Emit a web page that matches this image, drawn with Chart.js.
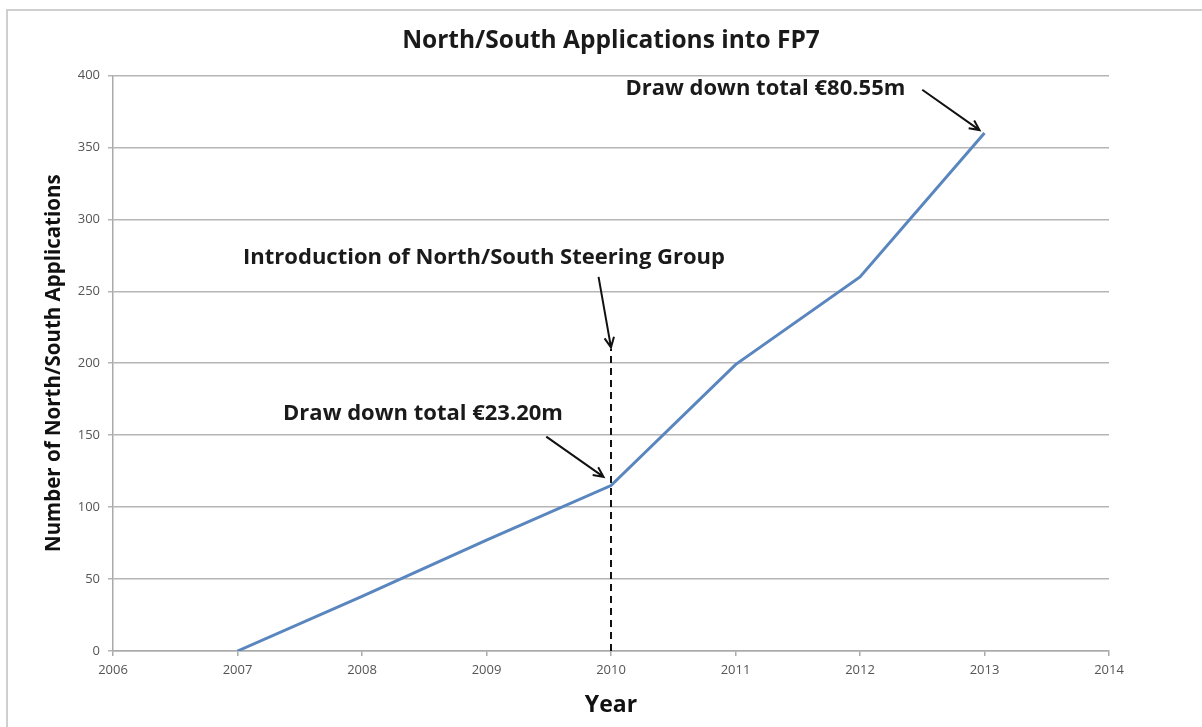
<!DOCTYPE html>
<html>
<head>
<meta charset="utf-8">
<script src="https://cdn.jsdelivr.net/npm/chart.js@4/dist/chart.umd.min.js"></script>
<style>
  html, body { margin: 0; padding: 0; background: #fff; }
  #wrap { width: 1202px; height: 727px; position: relative; }
</style>
</head>
<body>
<div id="wrap"><canvas id="c" width="1202" height="727"></canvas></div>
<script>
// donnees
const years = [2007, 2008, 2009, 2010, 2011, 2012, 2013];
const applications = [0, 38, 77, 115, 199, 260, 360];
const xRange = [2006, 2014];
const yRange = [0, 400];
const yStep = 50;
const steeringYear = 2010;
const steeringTop = 210;

// annotations (texte + fleche, en coordonnees de donnees)
const notes = [
  { text: "Draw down total \u20AC80.55m", x: 2011.24, y: 391, from: [2012.5, 390], to: [2012.96, 362] },
  { text: "Introduction of North/South Steering Group", x: 2008.98, y: 273, from: [2009.9, 260], to: [2010, 211] },
  { text: "Draw down total \u20AC23.20m", x: 2008.49, y: 165, from: [2009.48, 149], to: [2009.94, 121] }
];

const FONT = "'Open Sans', Lato, sans-serif";

// cadre gris autour du graphique
const framePlugin = {
  id: "frame",
  afterLayout(chart) {
    // titre centre sur la zone du graphique
    const t = chart.titleBlock;
    if (t) { t.left = chart.chartArea.left; t.right = chart.chartArea.right; }
  },
  beforeDraw(chart) {
    const ctx = chart.ctx;
    ctx.save();
    ctx.strokeStyle = "#cfcfcf";
    ctx.lineWidth = 2;
    ctx.strokeRect(7, 10, 1210, 730);
    ctx.restore();
  }
};

function arrow(ctx, x1, y1, x2, y2) {
  const a = Math.atan2(y2 - y1, x2 - x1);
  const h = 11;
  ctx.beginPath();
  ctx.moveTo(x1, y1);
  ctx.lineTo(x2, y2);
  ctx.moveTo(x2 - h * Math.cos(a - 0.45), y2 - h * Math.sin(a - 0.45));
  ctx.lineTo(x2, y2);
  ctx.lineTo(x2 - h * Math.cos(a + 0.45), y2 - h * Math.sin(a + 0.45));
  ctx.stroke();
}

const notesPlugin = {
  id: "notes",
  afterDatasetsDraw(chart) {
    const ctx = chart.ctx;
    const xs = chart.scales.x, ys = chart.scales.y;
    ctx.save();
    ctx.fillStyle = "#1a1a1a";
    ctx.strokeStyle = "#111";
    ctx.lineWidth = 2;
    ctx.font = "bold 22px " + FONT;
    ctx.textAlign = "center";
    ctx.textBaseline = "middle";
    notes.forEach(n => {
      ctx.fillText(n.text, xs.getPixelForValue(n.x), ys.getPixelForValue(n.y));
      arrow(ctx,
        xs.getPixelForValue(n.from[0]), ys.getPixelForValue(n.from[1]),
        xs.getPixelForValue(n.to[0]), ys.getPixelForValue(n.to[1]));
    });
    ctx.restore();
  }
};

new Chart(document.getElementById("c"), {
  type: "line",
  data: {
    datasets: [
      {
        label: "Applications",
        data: years.map((y, i) => ({ x: y, y: applications[i] })),
        borderColor: "#5a86bf",
        borderWidth: 3,
        pointRadius: 0,
        tension: 0,
        order: 1
      },
      {
        label: "Steering group",
        data: [{ x: steeringYear, y: 0 }, { x: steeringYear, y: steeringTop }],
        borderColor: "#111",
        borderWidth: 2,
        borderDash: [7, 5],
        pointRadius: 0,
        order: 2
      }
    ]
  },
  options: {
    responsive: false,
    animation: false,
    layout: { padding: { left: 30, right: 93, top: 20, bottom: 8 } },
    plugins: {
      legend: { display: false },
      tooltip: { enabled: false },
      title: {
        display: true,
        text: "North/South Applications into FP7",
        color: "#1a1a1a",
        font: { family: FONT, size: 24.5, weight: "bold" },
        padding: { top: 6, bottom: 20 }
      }
    },
    scales: {
      x: {
        type: "linear",
        min: xRange[0],
        max: xRange[1],
        ticks: { stepSize: 1, color: "#555", font: { family: FONT, size: 13 }, padding: 6, callback: v => String(v) },
        grid: { drawOnChartArea: false, drawTicks: true, tickLength: 5, color: "#aaa", lineWidth: 1.5 },
        border: { color: "#aaa", width: 1.5 },
        title: { display: true, text: "Year", color: "#111", font: { family: FONT, size: 23, weight: "bold" }, padding: { top: 2, bottom: 0 } },
        afterFit: s => { s.height = 727 - 651 - 8; }
      },
      y: {
        min: yRange[0],
        max: yRange[1],
        ticks: { stepSize: yStep, color: "#555", font: { family: FONT, size: 13 }, padding: 8 },
        grid: { color: "#b5b5b5", lineWidth: 1.5, tickLength: 5 },
        border: { color: "#aaa", width: 1.5 },
        title: { display: true, text: "Number of North/South Applications", color: "#111", font: { family: FONT, size: 20.5, weight: "bold" }, padding: { top: 12, bottom: 0 } },
        afterFit: s => { s.width = 113 - 30; }
      }
    }
  },
  plugins: [framePlugin, notesPlugin]
});
</script>
</body>
</html>
